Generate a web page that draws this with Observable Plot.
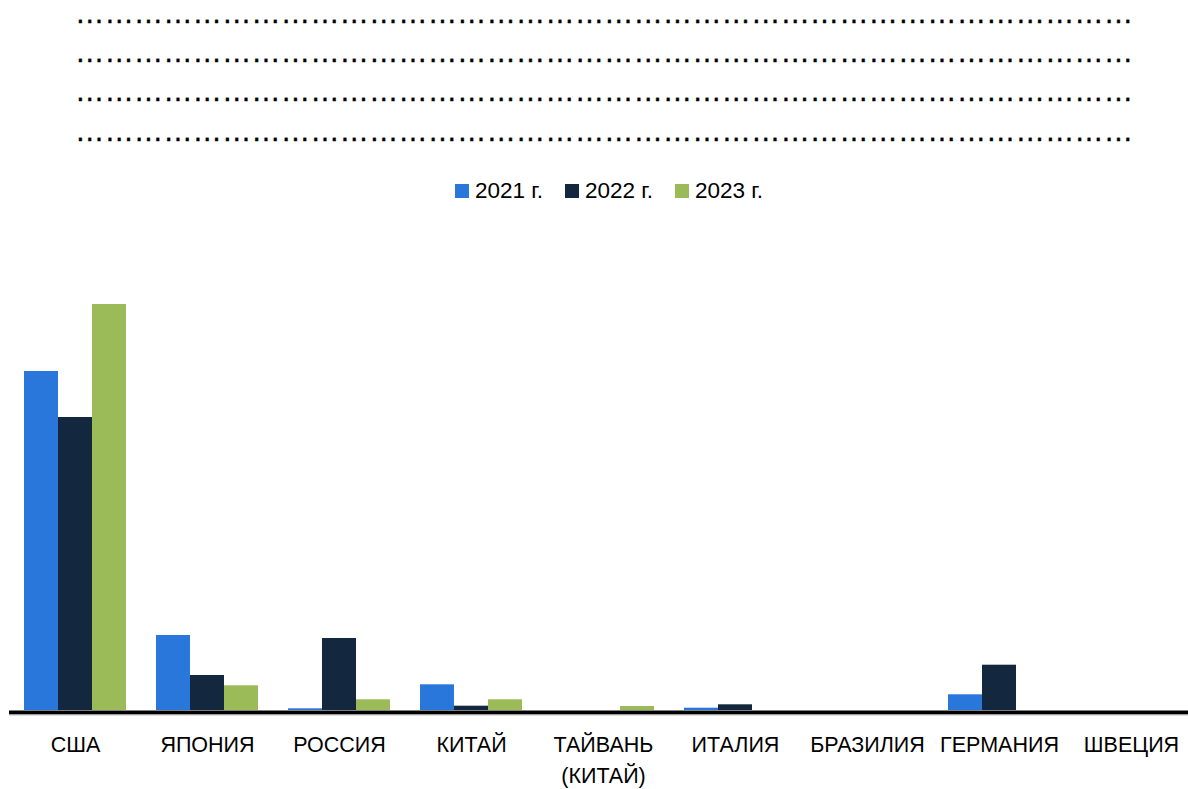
<!DOCTYPE html>
<html>
<head>
<meta charset="utf-8">
<script src="https://cdn.jsdelivr.net/npm/d3@7"></script>
<script src="https://cdn.jsdelivr.net/npm/@observablehq/plot@0.6"></script>
<style>
  html, body { margin: 0; padding: 0; background: #fff; }
  body { width: 1188px; height: 789px; position: relative; overflow: hidden; font-family: "Liberation Sans", Arial, sans-serif; }
  .dots { position: absolute; left: 75px; top: 2.5px; font-size: 29.4px; color: #000; -webkit-text-stroke: 0.35px #000; }
  .dots div { height: 20px; line-height: 20px; margin-bottom: 19.4px; white-space: pre; }
  .legend { position: absolute; top: 179px; left: 0; width: 1218px; display: flex; justify-content: center; align-items: center; gap: 22px; font-size: 22.5px; height: 24px; }
  .legend .item { display: flex; align-items: center; gap: 6px; }
  .legend .sw { width: 14px; height: 14px; display: inline-block; }
  #chart { position: absolute; top: 220px; left: 0; }
</style>
</head>
<body>
<div class="dots" id="dots"></div>
<div class="legend" id="legend"></div>
<div id="chart"></div>
<script>
const countries = ["США", "ЯПОНИЯ", "РОССИЯ", "КИТАЙ", "ТАЙВАНЬ\n(КИТАЙ)", "ИТАЛИЯ", "БРАЗИЛИЯ", "ГЕРМАНИЯ", "ШВЕЦИЯ"];
const years = ["2021 г.", "2022 г.", "2023 г."];
const v2021 = [339, 75, 1.7, 25.7, 0, 2.3, 0, 15.7, 0];
const v2022 = [293, 35, 72, 4.3, 0, 5.7, 0, 45.3, 0];
const v2023 = [406, 24.7, 10.7, 10.7, 4, 0, 0, 0, 0];
const colors = ["#2a77dc", "#13283f", "#9bbb59"];
const placeholderLines = 4;

const series = [v2021, v2022, v2023];
const data = [];
countries.forEach((c, i) => {
  years.forEach((y, j) => data.push({country: c, year: y, value: series[j][i]}));
});

// placeholder dotted title lines
const dotLine = "…".repeat(36);
const dots = document.getElementById("dots");
for (let k = 0; k < placeholderLines; k++) {
  const d = document.createElement("div");
  d.textContent = dotLine;
  dots.appendChild(d);
}

// legend
const legend = document.getElementById("legend");
years.forEach((y, j) => {
  const it = document.createElement("div");
  it.className = "item";
  const sw = document.createElement("span");
  sw.className = "sw";
  sw.style.background = colors[j];
  const t = document.createElement("span");
  t.textContent = y;
  it.appendChild(sw); it.appendChild(t);
  legend.appendChild(it);
});

const chart = Plot.plot({
  width: 1188,
  height: 569,
  marginTop: 0,
  marginBottom: 79,
  marginLeft: 9,
  marginRight: 0,
  style: {fontFamily: "Liberation Sans, Arial, sans-serif", fontSize: "21.5px", color: "#000", background: "#fff"},
  fx: {domain: countries, range: [9, 1197], padding: 0, label: null, axis: null},
  x: {domain: years, paddingInner: 0, paddingOuter: 0.386, axis: null},
  y: {domain: [0, 420], range: [490, 70], axis: null},
  color: {domain: years, range: colors},
  marks: [
    Plot.barY(data, {fx: "country", x: "year", y: "value", fill: "year", insetLeft: 0, insetRight: 0}),
    Plot.ruleY([0], {stroke: "#000", strokeWidth: 4, dy: 2}),
    Plot.ruleY([0], {stroke: "#c0c0c0", strokeWidth: 1, dy: 4.5}),
    Plot.axisFx({anchor: "bottom", tickSize: 0, tickPadding: 20, fontSize: 21.5, lineHeight: 1.42, label: null, fill: "#000"})
  ]
});
document.getElementById("chart").appendChild(chart);
</script>
</body>
</html>
